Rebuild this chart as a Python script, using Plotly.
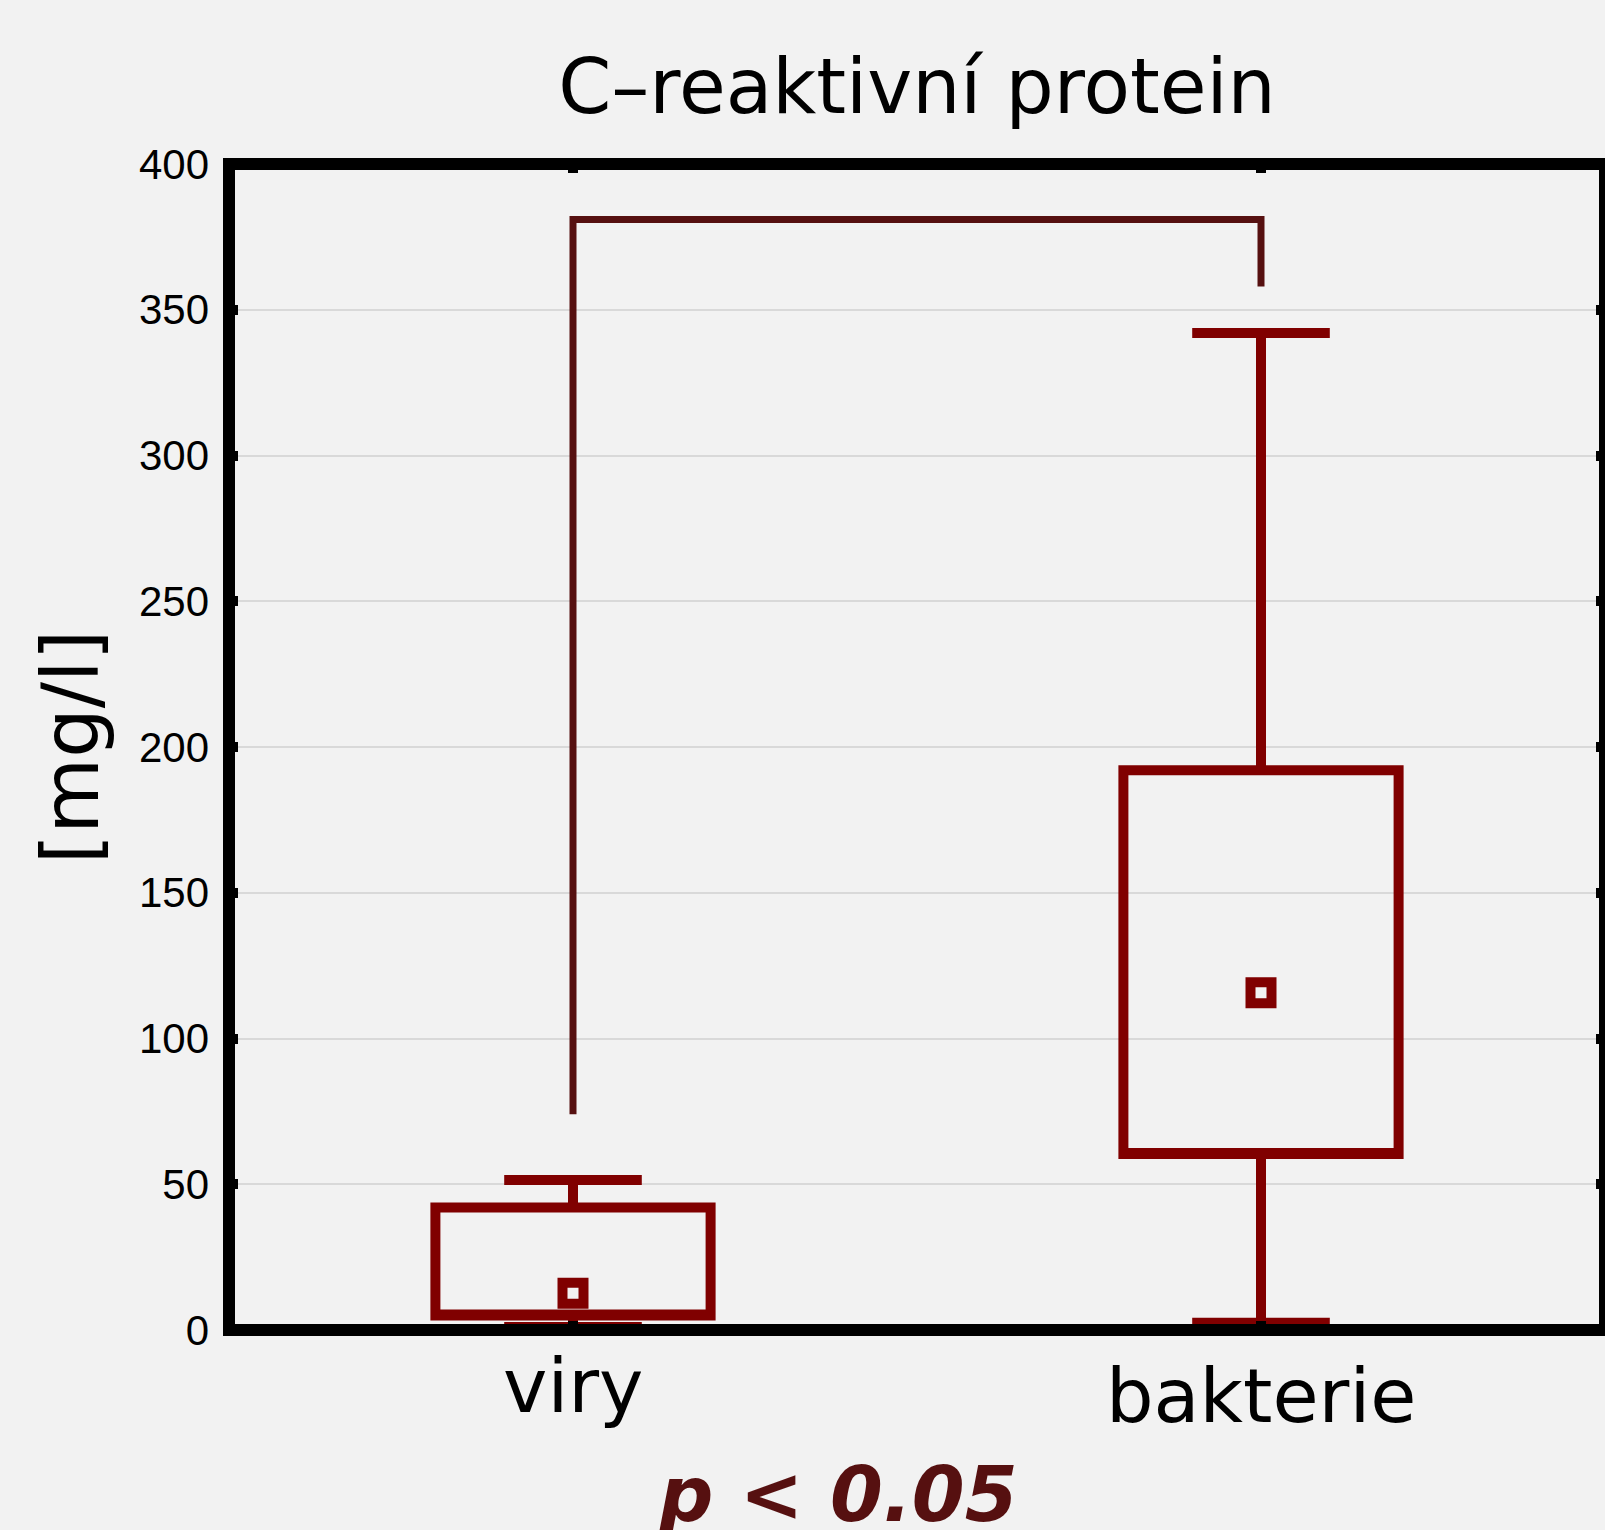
import plotly.graph_objects as go

# ---- data ----
categories = ["viry", "bakterie"]
box_q1 = [5.0, 60.4]
box_q3 = [42.0, 192.0]
whisker_low = [1.0, 2.5]
whisker_high = [51.5, 342.0]
means = [12.6, 115.7]

# significance bracket (x categories, y values)
bracket_x = ["viry", "viry", "bakterie", "bakterie"]
bracket_y = [74.0, 381.0, 381.0, 358.0]

y_ticks = [0, 50, 100, 150, 200, 250, 300, 350, 400]

title_text = "C\u2013reaktivn\u00ed protein"
y_title = "[mg/l]"
p_text = "p < 0.05"

BOX_COLOR = "#800000"
DARK = "#561010"
BG = "#f2f2f2"

W, H = 1605, 1530
ML, MR, MT, MB = 229, 0, 164, 200
LW = 12

fig = go.Figure()

fig.add_trace(go.Box(
    x=categories,
    q1=box_q1,
    median=box_q1,  # chart shows no median line; keep it on the lower edge
    q3=box_q3,
    lowerfence=whisker_low,
    upperfence=whisker_high,
    width=0.4,
    whiskerwidth=0.5,
    line=dict(color=BOX_COLOR, width=10),
    fillcolor="rgba(0,0,0,0)",
    boxpoints=False,
    hoverinfo="skip",
    showlegend=False,
))

fig.add_trace(go.Scatter(
    x=categories,
    y=means,
    mode="markers",
    marker=dict(symbol="square-open", size=21, color=BOX_COLOR,
                line=dict(width=10, color=BOX_COLOR)),
    hoverinfo="skip",
    showlegend=False,
))

fig.add_trace(go.Scatter(
    x=bracket_x,
    y=bracket_y,
    mode="lines",
    line=dict(color=DARK, width=7),
    hoverinfo="skip",
    showlegend=False,
    cliponaxis=False,
))

plot_w = W - ML - MR

fig.update_layout(
    width=W, height=H,
    margin=dict(l=ML, r=MR, t=MT, b=MB, pad=0, autoexpand=False),
    paper_bgcolor=BG,
    plot_bgcolor=BG,
    title=dict(
        text=title_text,
        font=dict(family="DejaVu Sans", size=76, color="black"),
        x=0.5, xref="paper", xanchor="center",
        y=1 - 86 / H, yref="container", yanchor="middle",
    ),
    xaxis=dict(
        type="category",
        automargin=False,
        range=[-0.5, 1.5],
        showline=False, mirror="allticks",
        ticks="inside", ticklen=9, tickwidth=10, tickcolor="black",
        showticklabels=False,
        showgrid=False, zeroline=False,
    ),
    yaxis=dict(
        automargin=False,
        range=[0, 400],
        tickvals=y_ticks,
        showline=False, mirror="allticks",
        ticks="inside", ticklen=9, tickwidth=10, tickcolor="black",
        tickfont=dict(family="Liberation Sans, Arial", size=42, color="black"),
        ticklabelstandoff=19,
        showgrid=True, gridcolor="#d9d9d9", gridwidth=1.5,
        zeroline=False,
        title=dict(text=y_title, standoff=14,
                   font=dict(family="DejaVu Sans", size=78, color="black")),
    ),
    shapes=[dict(
        type="rect", xref="paper", yref="paper",
        x0=0, x1=1, y0=0, y1=1,
        line=dict(color="black", width=LW),
        fillcolor="rgba(0,0,0,0)", layer="above",
    )],
)

# category labels (baselines differ slightly in the reference)
label_shift = {"viry": -56, "bakterie": -66}
for cat in categories:
    fig.add_annotation(
        x=cat, xref="x", y=0, yref="paper",
        text=cat, showarrow=False,
        xanchor="center", yanchor="middle",
        yshift=label_shift[cat],
        font=dict(family="DejaVu Sans", size=75, color="black"),
    )

fig.add_annotation(
    x=(838 - ML) / plot_w, xref="paper", y=0, yref="paper",
    text=p_text, showarrow=False,
    xanchor="center", yanchor="middle", yshift=-164,
    font=dict(family="DejaVu Sans", size=76, color=DARK,
              weight="bold", style="italic"),
)

fig.write_html(
    "out.html",
    config={"displayModeBar": False},
    post_script="document.body.style.margin='0';document.body.style.padding='0';"
                "document.body.style.overflow='hidden';",
)
